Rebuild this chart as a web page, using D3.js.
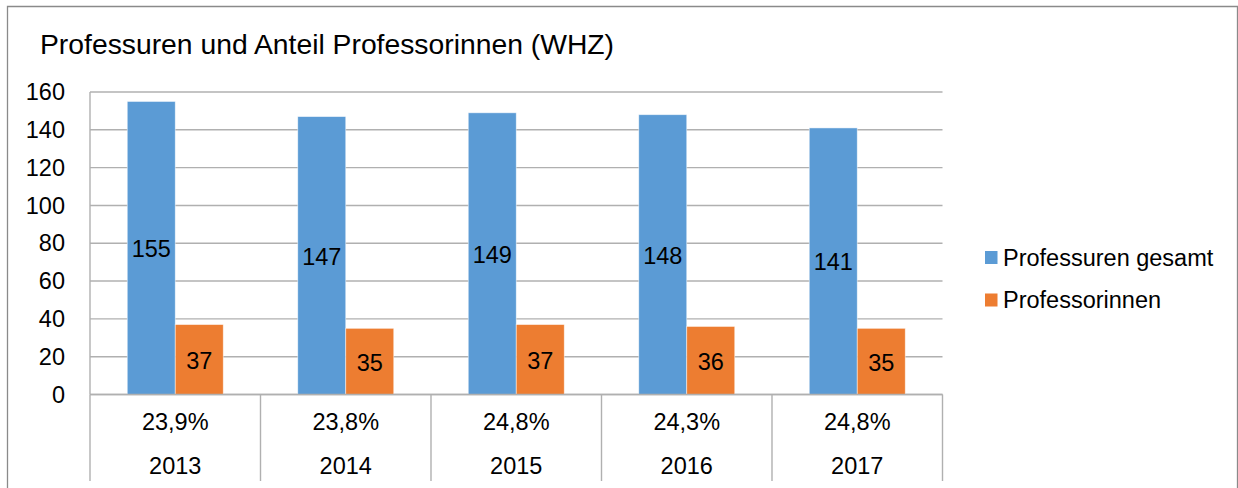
<!DOCTYPE html>
<html><head><meta charset="utf-8">
<script src="https://cdn.jsdelivr.net/npm/d3@7"></script>
<style>body{margin:0;background:#fff;} svg{display:block;font-family:"Liberation Sans",Arial,sans-serif;}</style>
</head><body>
<svg id="c" width="1238" height="488"></svg>
<script>
const years = ["2013","2014","2015","2016","2017"];
const shares = ["23,9%","23,8%","24,8%","24,3%","24,8%"];
const seriesNames = ["Professuren gesamt","Professorinnen"];
const gesamt = [155,147,149,148,141];
const professorinnen = [37,35,37,36,35];
const yTicks = [0,20,40,60,80,100,120,140,160];
const colors = ["#5B9BD5","#ED7D31"];

const svg = d3.select("#c");
const L = 90, R = 942.5, T = 92, B = 394.5;
const x = d3.scaleBand().domain(years).range([L, R]).padding(0);
const x1 = d3.scaleBand().domain(seriesNames).range([0, x.bandwidth()]).paddingInner(0).paddingOuter(0.776);
const y = d3.scaleLinear().domain([0,160]).range([B, T]);
const gridColor = "#B0B0B0";

// outer border
svg.append("path").attr("d","M7.5,490 V6.5 H1237.5 V490").attr("fill","none").attr("stroke","#8A8A8A").attr("stroke-width",1.3);

// title
svg.append("text").attr("x",40).attr("y",54).attr("font-size",28.3).attr("fill","#000")
  .text("Professuren und Anteil Professorinnen (WHZ)");

// gridlines
svg.append("g").selectAll("line").data(yTicks).join("line")
  .attr("x1",L).attr("x2",R).attr("y1",d=>y(d)).attr("y2",d=>y(d))
  .attr("stroke",gridColor).attr("stroke-width",1.4);

// y axis line
svg.append("line").attr("x1",L).attr("x2",L).attr("y1",T).attr("y2",B).attr("stroke",gridColor).attr("stroke-width",1.4);

// y tick labels
svg.append("g").selectAll("text").data(yTicks).join("text")
  .attr("x",65).attr("y",d=>y(d)).attr("dy","0.35em").attr("text-anchor","end")
  .attr("font-size",23.5).attr("fill","#000").text(d=>d);

// bars
const rows = years.map((yr,i)=>({yr, vals:[gesamt[i], professorinnen[i]]}));
const g = svg.append("g").selectAll("g").data(rows).join("g").attr("transform",d=>`translate(${x(d.yr)},0)`);
g.selectAll("rect").data(d=>d.vals.map((v,j)=>({v,j}))).join("rect")
  .attr("x",d=>x1(seriesNames[d.j])).attr("width",x1.bandwidth())
  .attr("y",d=>y(d.v)).attr("height",d=>y(0)-y(d.v))
  .attr("fill",d=>colors[d.j]).attr("stroke","#fff").attr("stroke-opacity",0.6).attr("stroke-width",0.8);
g.selectAll("text").data(d=>d.vals.map((v,j)=>({v,j}))).join("text")
  .attr("x",d=>x1(seriesNames[d.j])+x1.bandwidth()/2)
  .attr("y",d=>(y(d.v)+y(0))/2+1).attr("dy","0.35em").attr("text-anchor","middle")
  .attr("font-size",23.5).attr("fill","#000").text(d=>d.v);

// category axis line
svg.append("line").attr("x1",L).attr("x2",R).attr("y1",B).attr("y2",B).attr("stroke",gridColor).attr("stroke-width",1.4);
// separators
const seps = years.map(d=>x(d)).concat([R]);
svg.append("g").selectAll("line").data(seps).join("line")
  .attr("x1",d=>d).attr("x2",d=>d).attr("y1",B).attr("y2",481)
  .attr("stroke",gridColor).attr("stroke-width",1.4);
// category labels
svg.append("g").selectAll("text").data(shares).join("text")
  .attr("x",(d,i)=>x(years[i])+x.bandwidth()/2).attr("y",422).attr("dy","0.35em")
  .attr("text-anchor","middle").attr("font-size",23.5).attr("fill","#000").text(d=>d);
svg.append("g").selectAll("text").data(years).join("text")
  .attr("x",d=>x(d)+x.bandwidth()/2).attr("y",466).attr("dy","0.35em")
  .attr("text-anchor","middle").attr("font-size",23.5).attr("fill","#000").text(d=>d);

// legend
const lg = svg.append("g").selectAll("g").data(seriesNames).join("g")
  .attr("transform",(d,i)=>`translate(985,${257.5+i*42.5})`);
lg.append("rect").attr("x",0).attr("y",-6.5).attr("width",12.5).attr("height",13).attr("fill",(d,i)=>colors[i]);
lg.append("text").attr("x",18).attr("y",0).attr("dy","0.35em").attr("font-size",23.5).attr("fill","#000").text(d=>d);
</script>
</body></html>
